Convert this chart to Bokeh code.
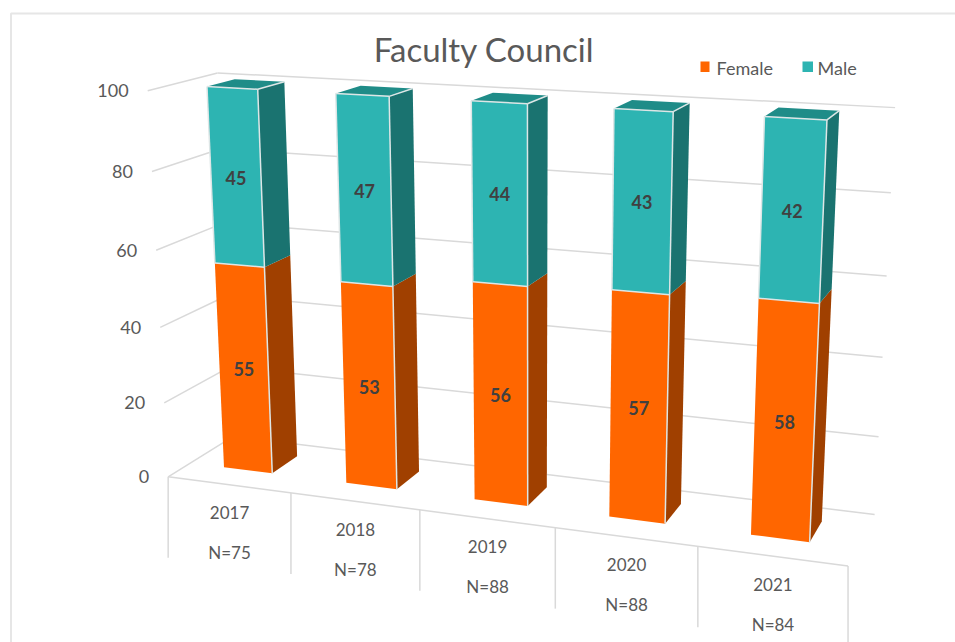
import numpy as np
from bokeh.plotting import figure
from bokeh.embed import file_html
from bokeh.resources import INLINE
from bokeh.core.properties import value

years = ["2017", "2018", "2019", "2020", "2021"]
counts = ["N=75", "N=78", "N=88", "N=88", "N=84"]
female = [55, 53, 56, 57, 58]
male = [45, 47, 44, 43, 42]
ticks = [0, 20, 40, 60, 80, 100]

ORANGE, ORANGE_SIDE = "#FF6600", "#A04000"
TEAL, TEAL_SIDE, TEAL_TOP = "#2DB4B2", "#1A7370", "#1F8C88"
GRID, TXT, EDGE = "#D9D9D9", "#595959", "#DDE6E6"
FONT = value("Lato")

# Camera calibration for the chart's perspective: (category, value, depth) -> picture pixel
calib = [
    ((0, 0, 0), (168, 476)), ((1, 0, 0), (291, 492)), ((2, 0, 0), (419, 509)),
    ((3, 0, 0), (555, 527)), ((4, 0, 0), (697, 546)), ((5, 0, 0), (848, 566)),
    ((0, 100, 0), (147, 91)), ((0, 80, 0), (152, 171)), ((0, 60, 0), (156, 249)),
    ((0, 40, 0), (159, 327)), ((0, 20, 0), (163, 403)),
    ((0, 0, 1), (233, 436.5)), ((0, 100, 1), (217, 72)),
    ((5, 100, 1), (895, 107)), ((5, 80, 1), (890, 193)), ((5, 60, 1), (886, 275)),
    ((5, 40, 1), (882, 357)), ((5, 20, 1), (878, 436)), ((5, 0, 1), (874, 514)),
]
A, b = [], []
for (u, v, d), (x, y) in calib:
    X = [u / 5, v / 100, d, 1]
    A.append(X + [0, 0, 0, 0] + [-x * t for t in X[:3]])
    A.append([0, 0, 0, 0] + X + [-y * t for t in X[:3]])
    b += [x, y]
sol = np.linalg.lstsq(np.array(A, float), np.array(b, float), rcond=None)[0]
P = np.append(sol, 1.0).reshape(3, 4)


def proj(u, v, d):
    r = P @ np.array([u / 5, v / 100, d, 1.0])
    return float(r[0] / r[2]), float(r[1] / r[2])


def seg(a, b, **kw):
    pa, pb = proj(*a), proj(*b)
    p.line([pa[0], pb[0]], [pa[1], pb[1]], **kw)


def face(pts, color):
    xy = [proj(*q) for q in pts]
    p.patch([q[0] for q in xy], [q[1] for q in xy], fill_color=color, line_color=None)


W, H = 955, 642
p = figure(width=W, height=H, x_range=(0, W), y_range=(H, 0), output_backend="svg",
           toolbar_location=None, min_border=0, outline_line_color=None,
           background_fill_color="white", border_fill_color="white")
p.axis.visible = False
p.grid.visible = False

# Outer chart-area border (top and left edges are all that show in the picture)
p.line([10.5, 10.5, W], [H, 13, 13], line_color="#E6E6E6", line_width=2)

grid = dict(line_color=GRID, line_width=1.5)
for t in ticks:
    seg((0, t, 0), (0, t, 1), **grid)
    seg((0, t, 1), (5, t, 1), **grid)
    x, y = proj(0, t, 0)
    p.text([x - 19], [y], text=[str(t)], text_font=FONT, text_font_size="18px", text_color=TXT,
           text_align="right", text_baseline="middle")
seg((0, 0, 0), (5, 0, 0), **grid)
for i in range(6):
    x, y = proj(i, 0, 0)
    p.line([x, x], [y, y + 81], **grid)

H_W, SHIFT, D0, D1 = 0.2, 0.018, 0.33, 0.74
for i, (f, m) in enumerate(zip(female, male)):
    u0, u1 = i + 0.5 - SHIFT - H_W, i + 0.5 - SHIFT + H_W
    tot = f + m
    for lo, hi, c, cs in ((0, f, ORANGE, ORANGE_SIDE), (f, tot, TEAL, TEAL_SIDE)):
        face([(u1, lo, D0), (u1, lo, D1), (u1, hi, D1), (u1, hi, D0)], cs)
        face([(u0, lo, D0), (u1, lo, D0), (u1, hi, D0), (u0, hi, D0)], c)
    face([(u0, tot, D0), (u1, tot, D0), (u1, tot, D1), (u0, tot, D1)], TEAL_TOP)
    e = dict(line_color=EDGE, line_width=1.5)
    seg((u1, 0, D0), (u1, tot, D0), **e)
    seg((u0, f, D0), (u0, tot, D0), **e)
    seg((u0, tot, D0), (u1, tot, D0), **e)
    seg((u1, tot, D0), (u1, tot, D1), **e)
    seg((u0, f, D0), (u1, f, D0), **e)
    for lo, hi, val in ((0, f, f), (f, tot, m)):
        x, y = proj(i + 0.5 - SHIFT, (lo + hi) / 2, D0)
        p.text([x], [y], text=[str(val)], text_font=FONT, text_font_style="bold",
               text_font_size="18px", text_color="#404040", text_align="center", text_baseline="middle")
    xa, ya = proj(i, 0, 0)
    xb, yb = proj(i + 1, 0, 0)
    xm, ym = (xa + xb) / 2, (ya + yb) / 2
    for off, s in ((28, years[i]), (68, counts[i])):
        p.text([xm], [ym + off], text=[s], text_font=FONT, text_font_size="17px", text_color=TXT,
               text_align="center", text_baseline="middle")

p.text([483.5], [48], text=["Faculty Council"], text_font=FONT, text_font_size="33px", text_color=TXT,
       text_align="center", text_baseline="middle")
p.quad(left=[700], right=[709], top=[61], bottom=[71.5], fill_color=ORANGE, line_color=None)
p.quad(left=[802], right=[812.5], top=[61], bottom=[71.5], fill_color=TEAL, line_color=None)
p.text([716, 817], [67, 67], text=["Female", "Male"], text_font=FONT, text_font_size="18px", text_color=TXT,
       text_align="left", text_baseline="middle")

open("out.html", "w").write(file_html(p, INLINE))
